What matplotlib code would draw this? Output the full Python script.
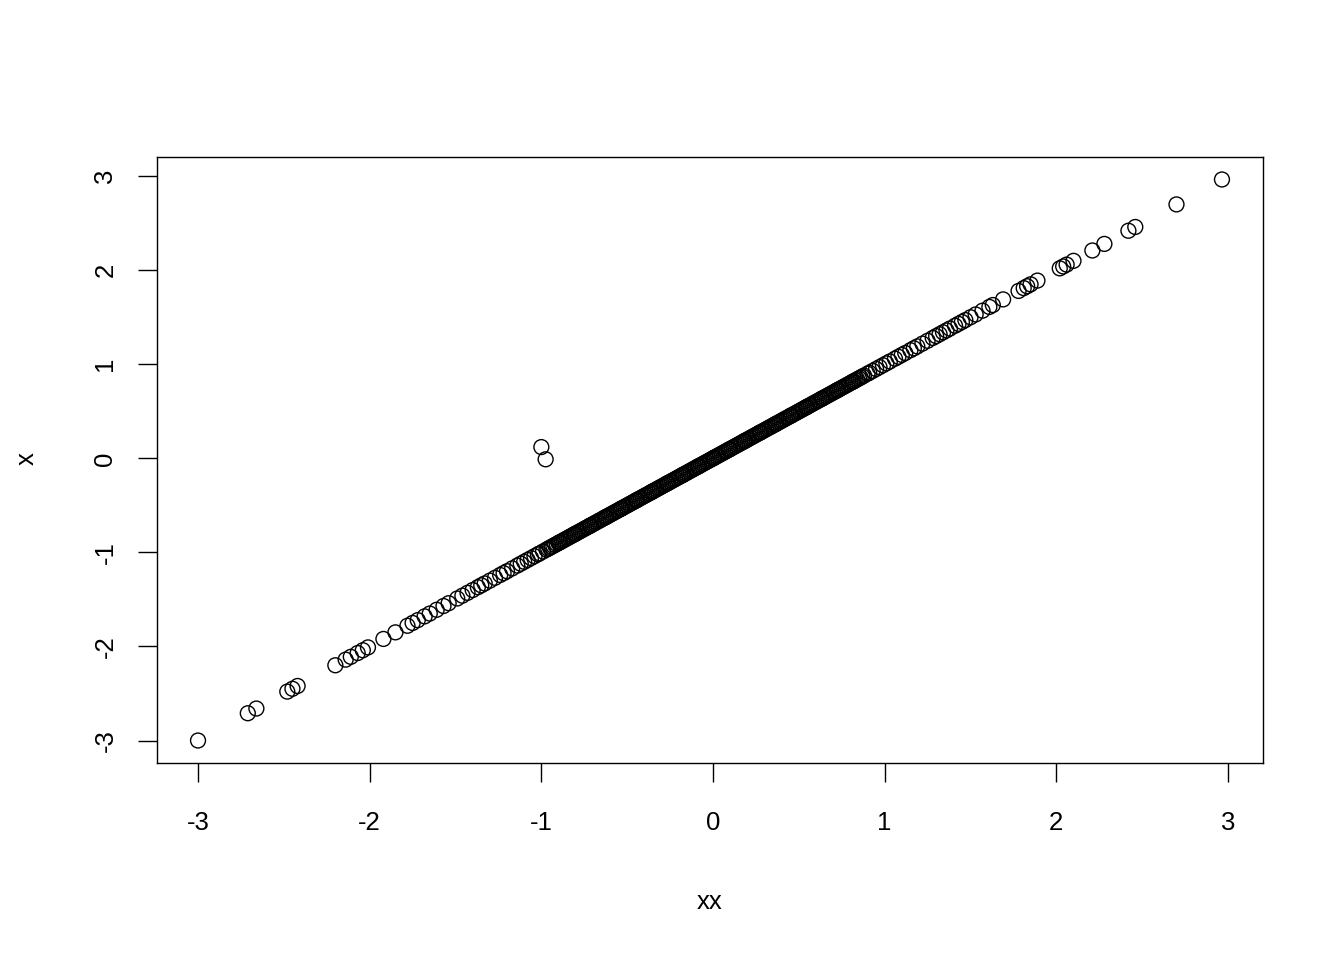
import numpy as np
import matplotlib.pyplot as plt

# points that sit on the diagonal (x equals xx)
diag = [-3.00, -2.71, -2.66, -2.48, -2.45, -2.42,
        -2.20, -2.14, -2.11, -2.07, -2.04, -2.01, -1.92, -1.85,
        -1.78, -1.75, -1.72, -1.68, -1.65, -1.61, -1.57, -1.54, -1.49, -1.46,
        -1.43, -1.40, -1.37, -1.35, -1.33, -1.30, -1.27, -1.24, -1.22, -1.20,
        -1.17, -1.14, -1.12, -1.10, -1.08, -1.06, -1.04, -1.02, -1.01, -0.99,
        -0.97, -0.96, -0.94, -0.92, -0.90, -0.89, -0.87, -0.85, -0.83, -0.81,
        -0.80, -0.78, -0.76, -0.74, -0.72, -0.71, -0.69, -0.67, -0.65, -0.63,
        -0.62, -0.60, -0.58, -0.56, -0.54, -0.53, -0.51, -0.49, -0.47, -0.45,
        -0.44, -0.42, -0.40, -0.38, -0.36, -0.35, -0.33, -0.31, -0.29, -0.27,
        -0.26, -0.24, -0.22, -0.20, -0.18, -0.17, -0.15, -0.13, -0.11, -0.09,
        -0.08, -0.06, -0.04, -0.02, 0.00, 0.01, 0.03, 0.05, 0.07, 0.09,
        0.10, 0.12, 0.14, 0.16, 0.18, 0.19, 0.21, 0.23, 0.25, 0.27,
        0.28, 0.30, 0.32, 0.34, 0.36, 0.37, 0.39, 0.41, 0.43, 0.45,
        0.46, 0.48, 0.50, 0.52, 0.54, 0.55, 0.57, 0.59, 0.61, 0.63,
        0.64, 0.66, 0.68, 0.70, 0.72, 0.73, 0.75, 0.77, 0.79, 0.81,
        0.82, 0.84, 0.86, 0.88, 0.90, 0.91, 0.93, 0.95, 0.97, 0.99,
        1.01, 1.03, 1.06, 1.08, 1.10, 1.12, 1.15, 1.17, 1.19, 1.22,
        1.25, 1.28, 1.30, 1.32, 1.34, 1.36, 1.38, 1.41, 1.43, 1.45, 1.47,
        1.50, 1.53, 1.57, 1.61, 1.63, 1.69, 1.78, 1.81, 1.83, 1.85, 1.89,
        2.02, 2.04, 2.06, 2.10, 2.21, 2.28, 2.42, 2.46, 2.70, 2.965]

# extra points in the crowded middle, where the circles merge into a solid band
core = [-0.95, -0.93, -0.91, -0.895, -0.88, -0.86, -0.84, -0.82, -0.805, -0.79,
        -0.77, -0.75, -0.73, -0.715, -0.70, -0.68, -0.66, -0.64, -0.625, -0.61,
        -0.59, -0.57, -0.55, -0.535, -0.52, -0.50, -0.48, -0.46, -0.445, -0.43,
        -0.41, -0.39, -0.37, -0.355, -0.34, -0.32, -0.30, -0.28, -0.265, -0.25,
        -0.23, -0.21, -0.19, -0.175, -0.16, -0.14, -0.12, -0.10, -0.085, -0.07,
        -0.05, -0.03, -0.01, 0.005, 0.02, 0.04, 0.06, 0.08, 0.095, 0.11,
        0.13, 0.15, 0.17, 0.185, 0.20, 0.22, 0.24, 0.26, 0.275, 0.29,
        0.31, 0.33, 0.35, 0.365, 0.38, 0.40, 0.42, 0.44, 0.455, 0.47,
        0.49, 0.51, 0.53, 0.545, 0.56, 0.58, 0.60, 0.62, 0.635, 0.65,
        0.67, 0.69, 0.71, 0.725, 0.74, 0.76, 0.78, 0.80, 0.815, 0.83,
        0.85, 0.87]

# the two points off the line
outlier_xx = [-1.00, -0.975]
outlier_x = [0.12, -0.01]

xx = np.array(diag + core + outlier_xx)
x = np.array(diag + core + outlier_x)

plt.rcParams['font.family'] = ['Liberation Sans', 'DejaVu Sans']
plt.rcParams['axes.unicode_minus'] = False

fig = plt.figure(figsize=(13.44, 9.6), dpi=100)
ax = fig.add_axes([157/1344, 1 - 763/960, (1263 - 157)/1344, (763 - 157)/960])

ax.scatter(xx, x, s=115, facecolors='none', edgecolors='black', linewidths=1.0)

ax.set_xlim(-3.239, 3.204)
ax.set_ylim(-3.239, 3.204)
ax.set_xticks(range(-3, 4))
ax.set_yticks(range(-3, 4))
ax.set_yticklabels([str(v) for v in range(-3, 4)], rotation=90, va='center')
ax.tick_params(labelsize=18.5, length=13.5, width=1.0)
ax.tick_params(axis='x', pad=21)
ax.tick_params(axis='y', pad=15)
for s in ax.spines.values():
    s.set_linewidth(1.0)

fig.text(710/1344, 1 - 902/960, 'xx', ha='center', va='center', fontsize=18.5)
fig.text(27/1344, 1 - 459/960, 'x', ha='center', va='center', fontsize=18.5, rotation=90)

fig.savefig('out.png', dpi=100)
